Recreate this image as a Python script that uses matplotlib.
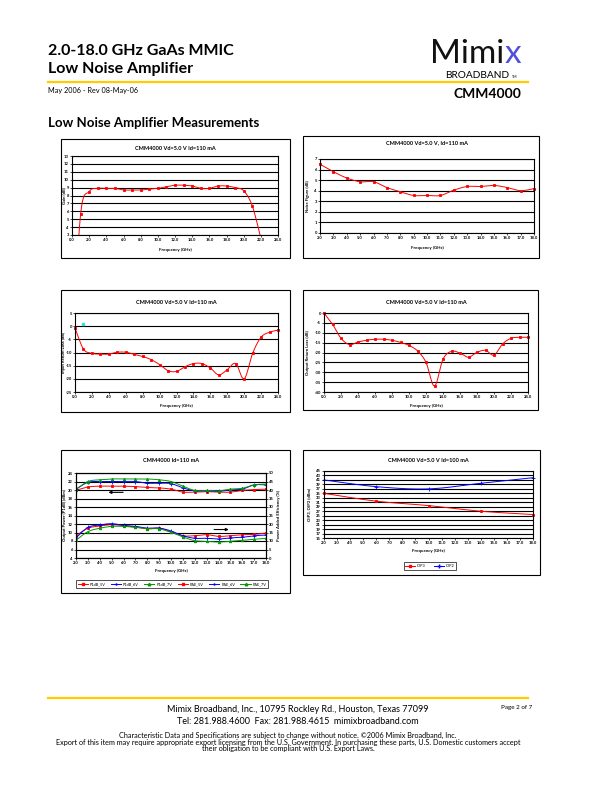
import matplotlib
import numpy as np

matplotlib.use("Agg")
import matplotlib.pyplot as plt
from matplotlib.patches import Rectangle
from matplotlib.lines import Line2D

W, H = 612, 792
plt.rcParams["font.family"] = ["Lato", "DejaVu Sans"]

# ---- data ----
gain_f = list(range(0, 23))
gain_db = [-12.0, 5.6, 8.5, 8.9, 8.9, 8.9, 8.7, 8.7, 8.7, 8.8, 8.9, 9.1,
           9.3, 9.3, 9.2, 8.9, 8.9, 9.2, 9.2, 9.0, 8.6, 6.7, 2.6]

nf_f = list(range(2, 19))
nf_db = [6.5, 5.8, 5.2, 4.85, 4.85, 4.3, 3.9, 3.55, 3.55, 3.55, 4.05,
         4.4, 4.4, 4.5, 4.3, 4.0, 4.2]

irl_f = list(range(0, 25))
irl_db = [-0.7, -8.7, -10.3, -10.6, -10.6, -9.9, -9.9, -10.7, -11.5, -12.7,
          -14.6, -16.9, -17.2, -15.4, -14.2, -14.2, -15.9, -18.5, -16.5,
          -14.2, -20.0, -10.3, -4.2, -2.3, -1.5]
irl_stray = ([1.0], [1.0])

orl_f = list(range(0, 25))
orl_db = [0.0, -5.7, -12.8, -16.0, -14.7, -13.8, -13.3, -13.3, -13.8, -14.9,
          -16.4, -19.2, -25.0, -37.0, -23.4, -19.4, -20.3, -22.4, -19.9,
          -18.9, -21.3, -15.7, -12.8, -12.3, -12.3]

pw_f = list(range(2, 19))
p1db_5v = [19.9, 20.7, 20.9, 20.9, 20.9, 20.8, 20.6, 20.5, 20.2, 19.5, 19.5,
           19.6, 19.5, 19.5, 19.9, 20.1, 20.2]
p1db_6v = [20.2, 21.8, 22.0, 22.0, 22.0, 22.0, 21.6, 21.6, 21.5, 20.5, 19.8,
           19.8, 19.7, 20.0, 20.2, 21.2, 21.2]
p1db_7v = [20.1, 22.0, 22.4, 22.6, 22.6, 22.6, 22.6, 22.4, 22.0, 20.9, 19.9,
           19.9, 19.8, 20.2, 20.4, 21.2, 21.4]
pae_5v = [13.1, 17.5, 18.8, 19.6, 19.0, 18.2, 17.1, 17.5, 15.5, 13.1, 13.1,
          13.7, 12.7, 13.1, 13.7, 13.9, 14.7]
pae_6v = [11.8, 18.0, 19.4, 20.2, 19.2, 18.6, 17.6, 17.6, 15.9, 13.1, 11.6,
          11.6, 11.2, 11.8, 12.2, 13.1, 13.5]
pae_7v = [10.4, 15.5, 17.5, 18.6, 18.6, 18.0, 17.3, 17.1, 15.1, 12.4, 10.2,
          9.8, 9.4, 9.8, 10.4, 11.0, 11.6]

ip_f = [2, 6, 10, 14, 18]
oip3 = [35.0, 31.5, 29.5, 27.0, 25.5]
oip2 = [41.0, 38.0, 37.0, 39.5, 42.0]

RED, BLUE, GREEN = "#ff0000", "#0000ff", "#009900"

fig = plt.figure(figsize=(W / 100, H / 100), dpi=100)


def fx(x):
    return x / W


def fy(y):
    return 1 - y / H


def ptxt(x, y, s, **kw):
    return fig.text(fx(x), fy(y), s, **kw)


def box(x0, y0, x1, y1, lw=0.8):
    fig.patches.append(Rectangle((fx(x0), fy(y1)), fx(x1 - x0), (y1 - y0) / H,
                                 transform=fig.transFigure, fill=False,
                                 edgecolor="black", linewidth=lw))


def smooth(x, y, n=20):
    """Catmull-Rom style smoothing like Excel's 'smoothed line'."""
    p = np.column_stack([x, y]).astype(float)
    out = [p[0]]
    t = np.linspace(0, 1, n)[1:, None]
    for i in range(len(p) - 1):
        p0 = p[max(i - 1, 0)]
        p1, p2 = p[i], p[i + 1]
        p3 = p[min(i + 2, len(p) - 1)]
        c1 = p1 + (p2 - p0) / 6
        c2 = p2 - (p3 - p1) / 6
        seg = ((1 - t) ** 3 * p1 + 3 * (1 - t) ** 2 * t * c1
               + 3 * (1 - t) * t ** 2 * c2 + t ** 3 * p2)
        out.extend(seg)
    out = np.array(out)
    return out[:, 0], out[:, 1]


def chart(plot, xlim, xticks, ylim, yticks, ylbl, title, title_y, xlabel_y,
          ylabel_x):
    x0, y0, x1, y1 = plot
    ax = fig.add_axes([fx(x0), fy(y1), fx(x1 - x0), (y1 - y0) / H])
    ax.set_xlim(*xlim)
    ax.set_ylim(*ylim)
    ax.set_xticks(xticks)
    ax.set_xticklabels([f"{v:.1f}" for v in xticks])
    ax.set_yticks(yticks)
    ax.set_yticklabels([f"{v:g}" for v in yticks])
    ax.tick_params(labelsize=3.0, length=1.2, width=0.5, pad=1.0)
    for lab in ax.get_xticklabels() + ax.get_yticklabels():
        lab.set_fontweight("bold")
    ax.grid(axis="y", color="black", linewidth=0.8)
    ax.set_axisbelow(True)
    for sp in ax.spines.values():
        sp.set_linewidth(0.8)
    ptxt((x0 + x1) / 2, title_y, title, ha="center", va="center",
         fontsize=4, fontweight="bold")
    ptxt((x0 + x1) / 2, xlabel_y, "Frequency (GHz)", ha="center", va="center",
         fontsize=3.2, fontweight="bold")
    ptxt(ylabel_x, (y0 + y1) / 2, ylbl, ha="center", va="center",
         rotation=90, fontsize=3.0, fontweight="bold")
    return ax


def series(ax, x, y, color, marker, ms=1.8, clip=True):
    sx, sy = smooth(x, y)
    ax.plot(sx, sy, color=color, linewidth=0.7, clip_on=clip)
    ax.plot(x, y, linestyle="none", marker=marker, color=color,
            markersize=ms, markeredgewidth=0.6, clip_on=clip)


# ---- page header ----
ptxt(48, 55, "2.0-18.0 GHz GaAs MMIC", fontsize=11.5, fontweight="bold",
     va="baseline")
ptxt(48, 73, "Low Noise Amplifier", fontsize=11.5, fontweight="bold",
     va="baseline")
logo = ptxt(430, 63, "Mimi", fontsize=24, fontweight="normal", va="baseline",
            color="#111111")
renderer = fig.canvas.get_renderer()
logo_end = logo.get_window_extent(renderer).x1
fig.text(logo_end / W + 0.001, fy(63), "x", fontsize=24, fontweight="normal",
         va="baseline", color="#5050dd")
ptxt(445, 78, "BROADBAND", fontsize=7.3, va="baseline")
ptxt(512, 78, "TM", fontsize=2.6, va="baseline")
fig.add_artist(Line2D([fx(48), fx(528)], [fy(82), fy(82)], color="#ffcc00",
                      linewidth=1.6, transform=fig.transFigure))
ptxt(48, 93, "May 2006 - Rev 08-May-06", fontsize=5.2, va="baseline")
ptxt(521, 98, "CMM4000", fontsize=10, fontweight="bold", ha="right",
     va="baseline")
ptxt(48, 127, "Low Noise Amplifier Measurements", fontsize=9.5,
     fontweight="bold", va="baseline")

# ---- chart 1: gain ----
box(61, 139, 290, 258)
ax = chart((72, 156, 278, 235), (0, 24), np.arange(0, 25, 2), (3, 13),
           np.arange(3, 14, 1), "Gain (dB)", "CMM4000 Vd=5.0 V Id=110 mA",
           148, 250, 64)
series(ax, gain_f, gain_db, RED, "s")

# ---- chart 2: noise figure ----
box(303, 136, 539, 258)
ax = chart((320, 159, 534, 233), (2, 18), np.arange(2, 19, 1), (0, 7),
           np.arange(0, 8, 1), "Noise Figure (dB)",
           "CMM4000 Vd=5.0 V, Id=110 mA", 143, 248, 308)
series(ax, nf_f, nf_db, RED, "s", clip=False)

# ---- chart 3: input return loss ----
box(61, 290, 290, 412)
ax = chart((75, 313, 278, 392), (0, 24), np.arange(0, 25, 2), (-25, 5),
           np.arange(-25, 6, 5), "Input Return Loss (dB)",
           "CMM4000 Vd=5.0 V Id=110 mA", 303, 406, 64)
series(ax, irl_f, irl_db, RED, "s", clip=False)
ax.plot(*irl_stray, linestyle="none", marker="s", color="#33dddd",
        markersize=1.6)

# ---- chart 4: output return loss ----
box(303, 290, 538, 410)
ax = chart((324, 313, 528, 392), (0, 24), np.arange(0, 25, 2), (-40, 0),
           np.arange(-40, 1, 5), "Output Return Loss (dB)",
           "CMM4000 Vd=5.0 V Id=110 mA", 303, 406, 308)
series(ax, orl_f, orl_db, RED, "s", clip=False)

# ---- chart 5: P1dB and PAE ----
box(61, 450, 290, 593)
ax = chart((76, 473, 266, 558), (2, 18), np.arange(2, 19, 1), (4, 24),
           np.arange(4, 25, 2), "Output Power (P1dB) (dBm)",
           "CMM4000 Id=110 mA", 461, 571, 65)
ax2 = ax.twinx()
ax2.set_ylim(0, 50)
ax2.set_yticks(np.arange(0, 51, 5))
ax2.tick_params(labelsize=3.0, length=1.2, width=0.5, pad=1.0)
for lab in ax2.get_yticklabels():
    lab.set_fontweight("bold")
ptxt(279, (473 + 558) / 2, "Power Added Efficiency (%)", ha="center",
     va="center", rotation=90, fontsize=3.0, fontweight="bold")
series(ax, pw_f, p1db_5v, RED, "s")
series(ax, pw_f, p1db_6v, BLUE, "+", ms=2.2)
series(ax, pw_f, p1db_7v, GREEN, "^")
series(ax2, pw_f, pae_5v, RED, "s")
series(ax2, pw_f, pae_6v, BLUE, "+", ms=2.2)
series(ax2, pw_f, pae_7v, GREEN, "^")
ax.annotate("", xy=(4.5, 19.45), xytext=(6.2, 19.45),
            arrowprops=dict(arrowstyle="-|>", color="black", lw=0.8,
                            mutation_scale=4))
ax.annotate("", xy=(15.1, 10.7), xytext=(13.4, 10.7),
            arrowprops=dict(arrowstyle="-|>", color="black", lw=0.8,
                            mutation_scale=4))
handles = [Line2D([], [], color=c, marker=m, markersize=1.8, linewidth=0.7)
           for c, m in [(RED, "s"), (BLUE, "+"), (GREEN, "^")] * 2]
labels = ["P1dB_5V", "P1dB_6V", "P1dB_7V", "PAE_5V", "PAE_6V", "PAE_7V"]
leg = fig.legend(handles, labels, ncol=6, fontsize=2.8, loc="center",
                 bbox_to_anchor=(fx(172), fy(584)), frameon=True,
                 fancybox=False, edgecolor="black", handlelength=2.6,
                 columnspacing=1.4, handletextpad=0.5, borderpad=0.4)
leg.get_frame().set_linewidth(0.6)

# ---- chart 6: OIP3 / OIP2 ----
box(303, 450, 540, 575)
ax = chart((324, 471, 533, 538), (2, 18), np.arange(2, 19, 1), (15, 45),
           np.arange(15, 46, 2), "OIP3, OIP2 (dBm)",
           "CMM4000 Vd=5.0 V Id=100 mA", 461, 551, 309)
series(ax, ip_f, oip3, RED, "s", clip=False)
series(ax, ip_f, oip2, BLUE, "+", ms=2.2, clip=False)
handles = [Line2D([], [], color=RED, marker="s", markersize=1.8, linewidth=0.7),
           Line2D([], [], color=BLUE, marker="+", markersize=2.2, linewidth=0.7)]
leg = fig.legend(handles, ["OIP3", "OIP2"], ncol=2, fontsize=2.8, loc="center",
                 bbox_to_anchor=(fx(430), fy(566)), frameon=True,
                 fancybox=False, edgecolor="black", handlelength=2.6,
                 handletextpad=0.5, borderpad=0.4)
leg.get_frame().set_linewidth(0.6)

# ---- footer ----
fig.add_artist(Line2D([fx(48), fx(528)], [fy(698), fy(698)], color="#ffcc00",
                      linewidth=1.6, transform=fig.transFigure))
ptxt(298, 709, "Mimix Broadband, Inc., 10795 Rockley Rd., Houston, Texas 77099",
     ha="center", va="center", fontsize=6.5)
ptxt(298, 721, "Tel: 281.988.4600  Fax: 281.988.4615  mimixbroadband.com",
     ha="center", va="center", fontsize=6.5)
ptxt(517, 707, "Page 2 of 7", ha="center", va="center", fontsize=4.5)
ptxt(288, 735, "Characteristic Data and Specifications are subject to change "
     "without notice. \u00a92006 Mimix Broadband, Inc.", ha="center",
     va="center", fontsize=5.2)
ptxt(288, 742, "Export of this item may require appropriate export licensing "
     "from the U.S. Government. In purchasing these parts, U.S. Domestic "
     "customers accept", ha="center", va="center", fontsize=5.2)
ptxt(288, 749, "their obligation to be compliant with U.S. Export Laws.",
     ha="center", va="center", fontsize=5.2)

fig.savefig("out.png", dpi=100)
